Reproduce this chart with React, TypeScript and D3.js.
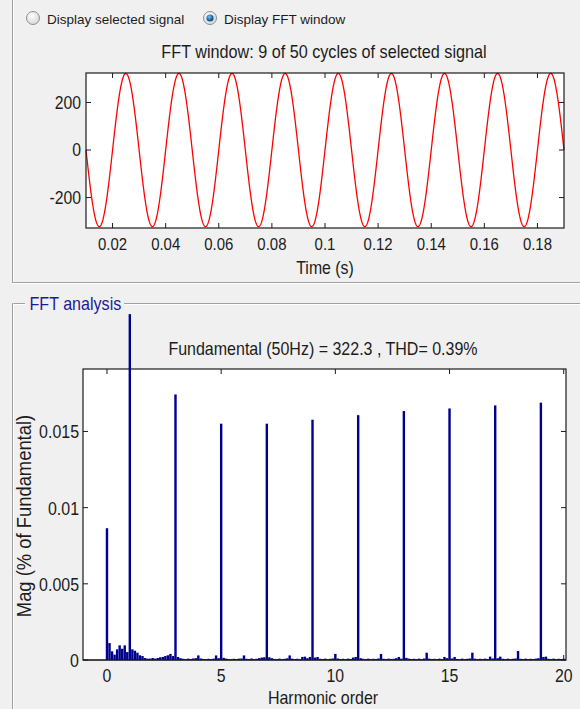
import React from 'react';
import * as d3 from 'd3';

// ---- data -------------------------------------------------------------
const RADIO_LABELS = ['Display selected signal', 'Display FFT window'];
const RADIO_SELECTED = 1;

const FUNDAMENTAL_HZ = 50;
const FUNDAMENTAL_PEAK = 322.3;
const THD_PERCENT = 0.39;
const TOTAL_CYCLES = 50;
const WINDOW_CYCLES = 9;
const WINDOW_START = 0.01;

const TIME_TICKS = [0.02, 0.04, 0.06, 0.08, 0.1, 0.12, 0.14, 0.16, 0.18];
const SIGNAL_TICKS = [-200, 0, 200];

// FFT bins: nine bins per harmonic order (resolution = 50 Hz / 9 cycles)
const BINS_PER_HARMONIC = 9;
const SPECTRUM_ROWS: number[][] = [
  [0.00865, 0.00111, 0.00057, 0.00035, 0.0007, 0.00096, 0.00074, 0.00096, 0.00052],
  [0.0227, 0.0007, 0.00061, 0.00048, 0.00031, 0.00026, 0.00013, 0.00009, 0.00009],
  [0.00013, 0.00009, 0.00013, 0.00018, 0.0002, 0.00026, 0.00031, 0.0004, 0.00026],
  [0.01743, 0.0002, 0.00012, 0.00008, 0.00006, 0.00009, 0.00007, 0.0001, 0.00012],
  [0.0003, 0.0001, 0.00007, 0.00005, 0.00008, 0.00006, 0.00009, 0.0003, 0.00012],
  [0.01551, 0.00014, 0.00009, 0.00006, 0.00005, 0.00008, 0.00006, 0.00009, 0.0001],
  [0.0003, 0.00008, 0.00006, 0.0001, 0.00005, 0.00008, 0.00012, 0.00016, 0.00018],
  [0.01551, 0.00018, 0.00012, 0.00007, 0.00006, 0.00009, 0.00005, 0.00008, 0.00011],
  [0.0003, 0.00009, 0.00006, 0.00008, 0.00005, 0.0002, 0.00022, 0.00012, 0.0002],
  [0.01577, 0.00016, 0.0002, 0.00008, 0.00006, 0.00009, 0.00005, 0.00008, 0.0001],
  [0.0004, 0.0001, 0.00006, 0.00008, 0.00005, 0.00009, 0.00007, 0.00016, 0.0002],
  [0.01607, 0.00012, 0.00008, 0.00006, 0.00009, 0.00005, 0.00008, 0.00006, 0.0001],
  [0.0004, 0.00008, 0.00006, 0.00009, 0.00005, 0.00008, 0.00012, 0.0002, 0.00009],
  [0.01634, 0.00014, 0.00009, 0.00006, 0.00008, 0.00005, 0.00009, 0.00006, 0.0001],
  [0.00048, 0.00009, 0.00006, 0.00008, 0.00005, 0.00009, 0.00006, 0.0002, 0.00012],
  [0.01651, 0.0001, 0.0002, 0.00007, 0.00005, 0.00009, 0.00006, 0.00008, 0.0001],
  [0.00048, 0.00009, 0.00006, 0.00008, 0.00005, 0.00009, 0.00006, 0.00022, 0.0001],
  [0.01671, 0.00012, 0.00022, 0.00008, 0.00005, 0.00009, 0.00006, 0.00008, 0.0001],
  [0.00059, 0.00008, 0.00006, 0.00009, 0.00005, 0.00008, 0.00006, 0.00009, 0.00012],
  [0.01689, 0.0002, 0.00022, 0.00008, 0.00006, 0.00009, 0.00005, 0.00008, 0.00006],
  [0.00008],
];
const HARMONIC_TICKS = [0, 5, 10, 15, 20];
const MAG_TICKS = [0, 0.005, 0.01, 0.015];

// ---- styling ----------------------------------------------------------
const W = 580;
const H = 709;
const BG = '#f0f0f0';
const INK = '#1c1c1c';
const EDGE = '#a0a0a0';
const FONT = '"Liberation Sans", Arial, sans-serif';
const BAR_COLOR = '#00008f';
const TRACE_COLOR = '#ff0000';

type TProps = {
  x: number; y: number; size: number; sx?: number; anchor?: 'start' | 'middle' | 'end';
  rotate?: number; fill?: string; children: React.ReactNode;
};
function T({ x, y, size, sx = 1, anchor = 'start', rotate = 0, fill = INK, children }: TProps) {
  return (
    <text
      transform={`translate(${x},${y}) rotate(${rotate}) scale(${sx},1)`}
      fontSize={size}
      fontFamily={FONT}
      textAnchor={anchor}
      fill={fill}
    >
      {children}
    </text>
  );
}

function Radio({ cx, cy, on }: { cx: number; cy: number; on: boolean }) {
  return (
    <g>
      <circle cx={cx} cy={cy} r={6.5} fill="url(#radioFill)" stroke="#8e8f8f" strokeWidth={1} />
      {on && <circle cx={cx} cy={cy} r={3.6} fill="url(#radioDot)" />}
    </g>
  );
}

export default function App() {
  // signal panel geometry
  const sig = { l: 86, r: 564, t: 73, b: 228 };
  const windowEnd = WINDOW_START + WINDOW_CYCLES / FUNDAMENTAL_HZ;
  const xt = d3.scaleLinear().domain([WINDOW_START, windowEnd]).range([sig.l, sig.r]);
  const yt = d3.scaleLinear().domain([-328, 324]).range([sig.b, sig.t]);

  // fundamental component sampled over the FFT window
  const samples = d3.range(0, 1801).map((i) => {
    const t = WINDOW_START + (i / 1800) * (windowEnd - WINDOW_START);
    return [t, FUNDAMENTAL_PEAK * Math.sin(2 * Math.PI * FUNDAMENTAL_HZ * t)] as [number, number];
  });
  const trace = d3.line<[number, number]>().x((d) => xt(d[0])).y((d) => yt(d[1]))(samples) || '';

  // spectrum panel geometry
  const fft = { l: 83, r: 566, t: 369, b: 660 };
  const xh = d3.scaleLinear().domain([-1.05, 20.1]).range([fft.l, fft.r]);
  const yh = d3.scaleLinear().domain([0, 0.0191]).range([fft.b, fft.t]);
  const bins = SPECTRUM_ROWS.flat().map((v, k) => ({ order: k / BINS_PER_HARMONIC, v }));
  const barW = xh(0.95 / BINS_PER_HARMONIC) - xh(0);

  const title1 = `FFT window: ${WINDOW_CYCLES} of ${TOTAL_CYCLES} cycles of selected signal`;
  const title2 = `Fundamental (${FUNDAMENTAL_HZ}Hz) = ${FUNDAMENTAL_PEAK} , THD= ${THD_PERCENT}%`;
  const tick = 5;

  return (
    <div style={{ position: 'fixed', left: 0, top: 0 }}>
      <svg width={W} height={H} viewBox={`0 0 ${W} ${H}`} style={{ display: 'block' }}>
        <defs>
          <radialGradient id="radioFill" cx="40%" cy="35%" r="70%">
            <stop offset="0%" stopColor="#ffffff" />
            <stop offset="100%" stopColor="#d4d4d4" />
          </radialGradient>
          <radialGradient id="radioDot" cx="40%" cy="35%" r="70%">
            <stop offset="0%" stopColor="#7fc3ef" />
            <stop offset="60%" stopColor="#1d6aa8" />
            <stop offset="100%" stopColor="#0c3d6b" />
          </radialGradient>
        </defs>
        <rect x={0} y={0} width={W} height={H} fill={BG} />

        {/* upper panel frame */}
        <line x1={12.5} y1={0} x2={12.5} y2={283} stroke={EDGE} />
        <line x1={13.5} y1={0} x2={13.5} y2={282} stroke="#ffffff" />
        <line x1={12} y1={282.5} x2={W} y2={282.5} stroke={EDGE} />
        <line x1={12} y1={283.5} x2={W} y2={283.5} stroke="#ffffff" />

        {/* radio buttons */}
        <Radio cx={33} cy={18} on={RADIO_SELECTED === 0} />
        <T x={47} y={23.5} size={13.5}>{RADIO_LABELS[0]}</T>
        <Radio cx={210} cy={18} on={RADIO_SELECTED === 1} />
        <T x={224} y={23.5} size={13.5}>{RADIO_LABELS[1]}</T>

        {/* signal axes */}
        <T x={324} y={58} size={18.5} sx={0.875} anchor="middle">{title1}</T>
        <rect x={sig.l} y={sig.t} width={sig.r - sig.l} height={sig.b - sig.t} fill="#ffffff" />
        <path d={trace} fill="none" stroke={TRACE_COLOR} strokeWidth={1.3} />
        <rect x={sig.l} y={sig.t} width={sig.r - sig.l} height={sig.b - sig.t} fill="none" stroke={INK} strokeWidth={1.2} />
        {TIME_TICKS.map((v) => (
          <g key={`tx${v}`}>
            <line x1={xt(v)} x2={xt(v)} y1={sig.b} y2={sig.b - tick} stroke={INK} />
            <line x1={xt(v)} x2={xt(v)} y1={sig.t} y2={sig.t + tick} stroke={INK} />
            <T x={xt(v)} y={sig.b + 22} size={17} sx={0.88} anchor="middle">{String(v)}</T>
          </g>
        ))}
        {SIGNAL_TICKS.map((v) => (
          <g key={`ty${v}`}>
            <line x1={sig.l} x2={sig.l + tick} y1={yt(v)} y2={yt(v)} stroke={INK} />
            <line x1={sig.r} x2={sig.r - tick} y1={yt(v)} y2={yt(v)} stroke={INK} />
            <T x={sig.l - 5} y={yt(v) + 6.3} size={17.5} sx={0.9} anchor="end">{String(v)}</T>
          </g>
        ))}
        <T x={325} y={274} size={18} sx={0.88} anchor="middle">Time (s)</T>

        {/* FFT group box */}
        <line x1={13.5} y1={303.5} x2={25} y2={303.5} stroke={EDGE} />
        <line x1={124} y1={303.5} x2={W} y2={303.5} stroke={EDGE} />
        <line x1={13.5} y1={304.5} x2={25} y2={304.5} stroke="#ffffff" />
        <line x1={124} y1={304.5} x2={W} y2={304.5} stroke="#ffffff" />
        <line x1={12.5} y1={303} x2={12.5} y2={H} stroke={EDGE} />
        <line x1={13.5} y1={304} x2={13.5} y2={H} stroke="#ffffff" />
        <T x={29.5} y={309.5} size={17.5} sx={0.92} fill="#1c1c9a">FFT analysis</T>

        {/* spectrum axes */}
        <T x={323} y={355} size={18} sx={0.89} anchor="middle">{title2}</T>
        <rect x={fft.l} y={fft.t} width={fft.r - fft.l} height={fft.b - fft.t} fill="#ffffff" />
        <rect x={fft.l} y={fft.t} width={fft.r - fft.l} height={fft.b - fft.t} fill="none" stroke={INK} strokeWidth={1.2} />
        {HARMONIC_TICKS.map((v) => (
          <g key={`hx${v}`}>
            <line x1={xh(v)} x2={xh(v)} y1={fft.b} y2={fft.b - tick} stroke={INK} />
            <line x1={xh(v)} x2={xh(v)} y1={fft.t} y2={fft.t + tick} stroke={INK} />
            <T x={xh(v)} y={fft.b + 22} size={18} sx={0.88} anchor="middle">{String(v)}</T>
          </g>
        ))}
        {MAG_TICKS.map((v) => (
          <g key={`hy${v}`}>
            <line x1={fft.l} x2={fft.l + tick} y1={yh(v)} y2={yh(v)} stroke={INK} />
            <line x1={fft.r} x2={fft.r - tick} y1={yh(v)} y2={yh(v)} stroke={INK} />
            <T x={fft.l - 4} y={yh(v) + 7} size={19} sx={0.84} anchor="end">{String(v)}</T>
          </g>
        ))}
        {bins.map((d, i) => (
          <rect
            key={`b${i}`}
            x={xh(d.order) - barW / 2}
            y={yh(d.v)}
            width={barW}
            height={yh(0) - yh(d.v)}
            fill={BAR_COLOR}
          />
        ))}
        <line x1={fft.l} x2={fft.r} y1={fft.b} y2={fft.b} stroke={INK} strokeWidth={1.2} />
        <T x={323} y={704} size={18} sx={0.89} anchor="middle">Harmonic order</T>
        <T x={31} y={516} size={20} sx={0.92} rotate={-90} anchor="middle">Mag (% of Fundamental)</T>
      </svg>
    </div>
  );
}
